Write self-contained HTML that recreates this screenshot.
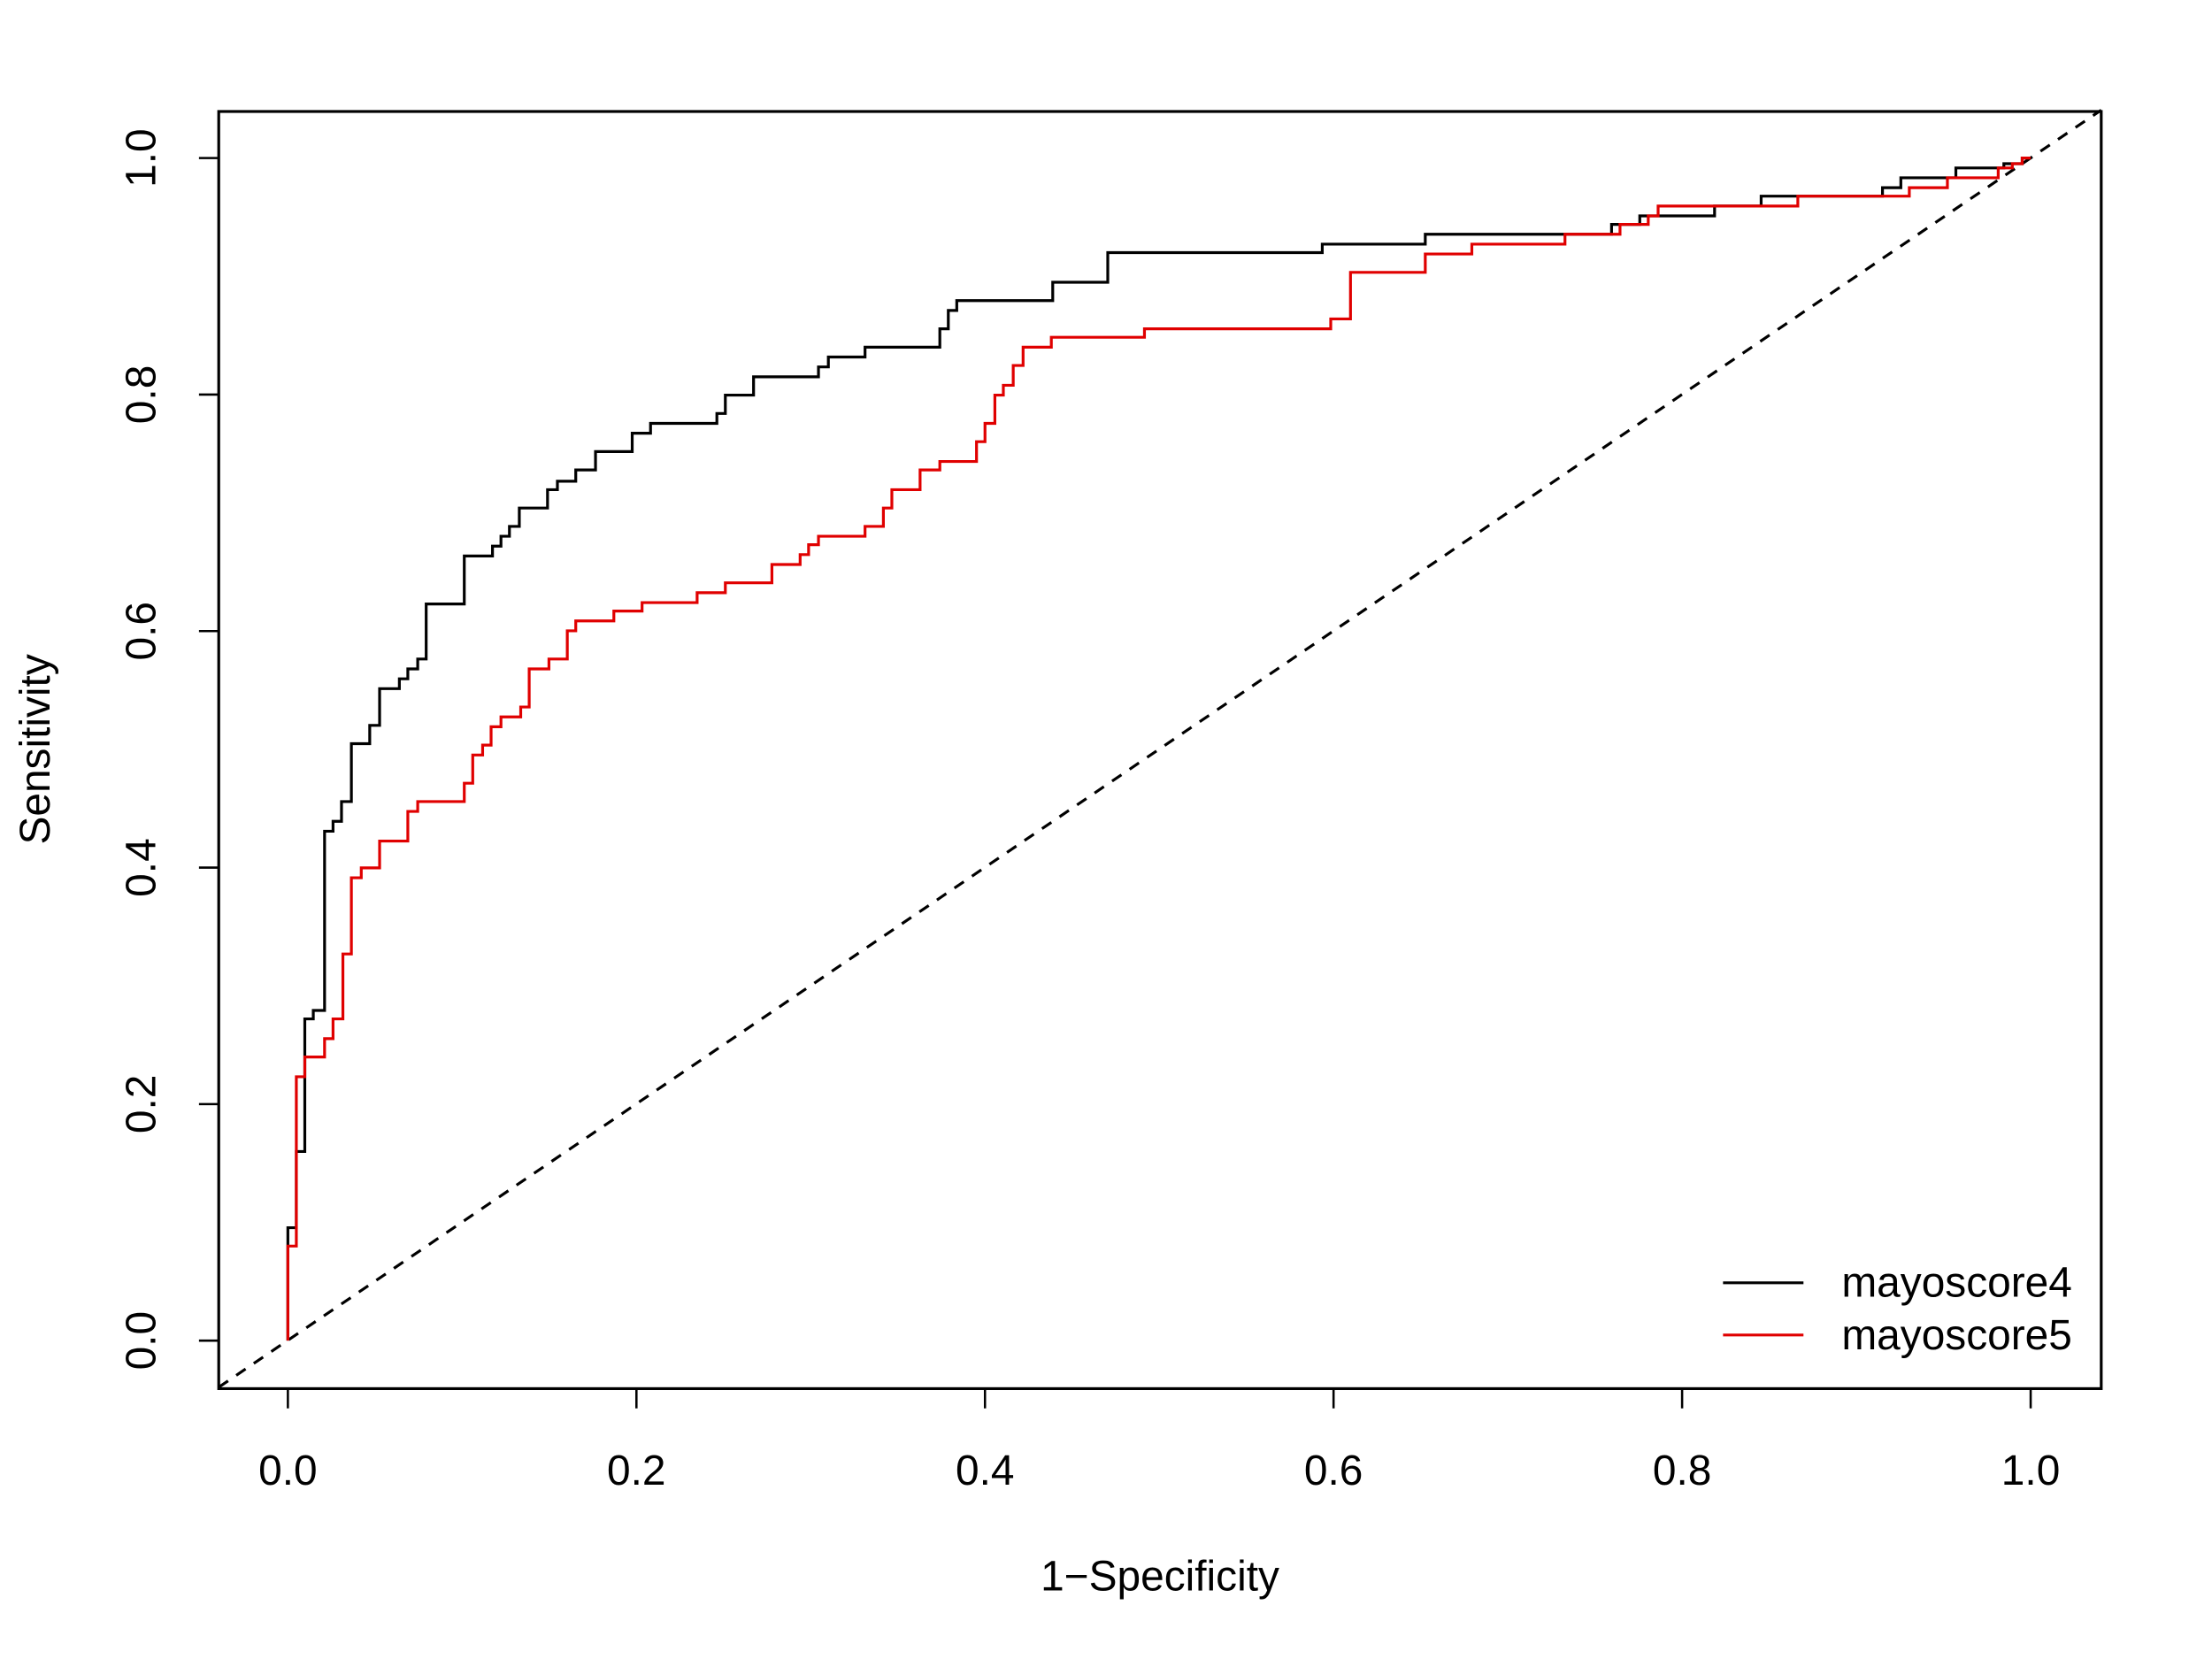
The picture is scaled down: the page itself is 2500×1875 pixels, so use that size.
<!DOCTYPE html>
<html><head><meta charset="utf-8"><style>html,body{margin:0;padding:0;background:#fff}svg{display:block}</style></head>
<body>
<svg width="2500" height="1875" viewBox="0 0 1567.5 1175.6" preserveAspectRatio="none" xmlns="http://www.w3.org/2000/svg" font-family="Liberation Sans, Arial, sans-serif">
<rect width="1567.5" height="1175.6" fill="#fff"/>
<rect x="155" y="79" width="1334" height="905" fill="none" stroke="#000" stroke-width="2"/>
<line x1="155" y1="983" x2="1489" y2="78" stroke="#000" stroke-width="2" stroke-dasharray="8,7"/>
<g stroke="#000" stroke-width="1.6">
<line x1="204" y1="984" x2="204" y2="998"/><line x1="451" y1="984" x2="451" y2="998"/><line x1="698" y1="984" x2="698" y2="998"/><line x1="945" y1="984" x2="945" y2="998"/><line x1="1192" y1="984" x2="1192" y2="998"/><line x1="1439" y1="984" x2="1439" y2="998"/>
<line x1="141" y1="950" x2="155" y2="950"/><line x1="141" y1="782.4" x2="155" y2="782.4"/><line x1="141" y1="614.8" x2="155" y2="614.8"/><line x1="141" y1="447.2" x2="155" y2="447.2"/><line x1="141" y1="279.6" x2="155" y2="279.6"/><line x1="141" y1="112" x2="155" y2="112"/>
</g>
<g font-size="30" text-anchor="middle" fill="#000">
<text x="204" y="1052">0.0</text><text x="451" y="1052">0.2</text><text x="698" y="1052">0.4</text><text x="945" y="1052">0.6</text><text x="1192" y="1052">0.8</text><text x="1439" y="1052">1.0</text>
<text transform="translate(110,950) rotate(-90)">0.0</text>
<text transform="translate(110,782.4) rotate(-90)">0.2</text>
<text transform="translate(110,614.8) rotate(-90)">0.4</text>
<text transform="translate(110,447.2) rotate(-90)">0.6</text>
<text transform="translate(110,279.6) rotate(-90)">0.8</text>
<text transform="translate(110,112) rotate(-90)">1.0</text>
<text x="822" y="1127">1−Specificity</text>
<text transform="translate(35,531) rotate(-90)">Sensitivity</text>
</g>
<path fill="none" stroke="#000" stroke-width="2" d="M204,950 V870 H210 V816 H216 V722 H222 V716 H230 V589 H236 V582 H242 V568 H249 V527 H262 V514 H269 V488 H283 V481 H289 V474 H296 V467 H302 V428 H329 V394 H349 V387 H355 V380 H361 V373 H368 V360 H388 V347 H395 V341 H408 V333 H422 V320 H448 V307 H461 V300 H508 V293 H514 V280 H534 V267 H580 V260 H587 V253 H613 V246 H666 V233 H672 V220 H678 V213 H746 V200 H785 V179 H937 V173 H1010 V166 H1142 V159 H1162 V153 H1215 V146 H1248 V139 H1334 V133 H1347 V126 H1386 V119 H1420 V116 H1433 V112 H1439"/>
<path fill="none" stroke="#e00000" stroke-width="2" d="M204,950 V883 H210 V763 H216 V749 H230 V736 H236 V722 H243 V676 H249 V622 H256 V615 H269 V596 H289 V575 H296 V568 H329 V555 H335 V535 H342 V528 H348 V515 H355 V508 H369 V501 H375 V474 H389 V467 H402 V447 H408 V440 H435 V433 H455 V427 H494 V420 H514 V413 H547 V400 H567 V393 H573 V386 H580 V380 H613 V373 H626 V360 H632 V347 H652 V333 H666 V327 H692 V313 H698 V300 H705 V280 H711 V273 H718 V259 H725 V246 H745 V239 H811 V233 H943 V226 H957 V193 H1010 V180 H1043 V173 H1109 V166 H1148 V159 H1168 V153 H1175 V146 H1274 V139 H1353 V133 H1380 V126 H1416 V119 H1426 V116 H1433 V112 H1439"/>
<line x1="1221" y1="909" x2="1278" y2="909" stroke="#000" stroke-width="2"/>
<line x1="1221" y1="946" x2="1278" y2="946" stroke="#e00000" stroke-width="2"/>
<g font-size="30" fill="#000">
<text x="1305" y="919">mayoscore4</text>
<text x="1305" y="956">mayoscore5</text>
</g>
</svg>
</body></html>
